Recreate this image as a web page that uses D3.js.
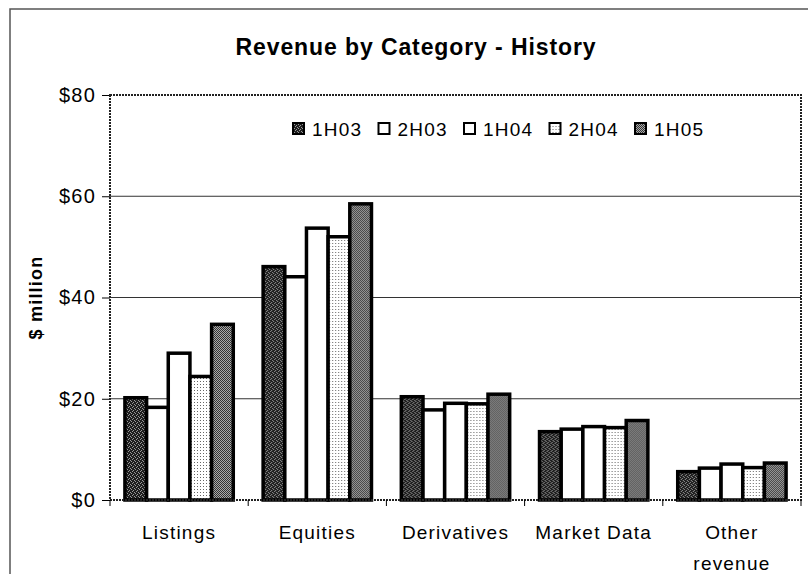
<!DOCTYPE html>
<html lang="en">
<head>
	<meta charset="UTF-8">
	<title>Revenue by Category - History</title>
	<script src="https://cdn.jsdelivr.net/npm/d3@7"></script>
	<style>
		body { margin: 0; background: #fff; }
		text { font-family: "Liberation Sans", Arial, sans-serif; fill: #000; letter-spacing: 1.2px; }
	</style>
</head>
<body>
	<svg id="svg"></svg>
	<script>
		var categories = ["Listings", "Equities", "Derivatives", "Market Data", "Other revenue"];
		var series = ["1H03", "2H03", "1H04", "2H04", "1H05"];
		// values in $ million, one array per half-year
		var v1H03 = [20.2, 46.1, 20.4, 13.5, 5.6];
		var v2H03 = [18.3, 44.1, 17.8, 14.0, 6.3];
		var v1H04 = [29.0, 53.7, 19.1, 14.5, 7.1];
		var v2H04 = [24.4, 52.0, 19.0, 14.3, 6.4];
		var v1H05 = [34.7, 58.5, 20.9, 15.7, 7.3];
		var yTicks = [0, 20, 40, 60, 80];

		var values = [v1H03, v2H03, v1H04, v2H04, v1H05];
		var w = 808, h = 574;
		var m = {left: 110, right: 7, top: 95, bottom: 74};

		var svg = d3.select("#svg").attr("width", w).attr("height", h);

		// fill patterns
		var defs = svg.append("defs");
		var p1 = defs.append("pattern").attr("id", "p1H03").attr("patternUnits", "userSpaceOnUse")
			.attr("width", 4).attr("height", 4);
		p1.append("rect").attr("width", 4).attr("height", 4).attr("fill", "#1e1e1e");
		[[0,0],[1,1],[3,2],[2,3]].forEach(function(d) {
			p1.append("rect").attr("x", d[0]).attr("y", d[1]).attr("width", 1).attr("height", 1).attr("fill", "#999");
		});
		var p4 = defs.append("pattern").attr("id", "p2H04").attr("patternUnits", "userSpaceOnUse")
			.attr("width", 3).attr("height", 3);
		p4.append("rect").attr("width", 3).attr("height", 3).attr("fill", "#fff");
		p4.append("rect").attr("width", 1).attr("height", 1).attr("fill", "#666");
		var p5 = defs.append("pattern").attr("id", "p1H05").attr("patternUnits", "userSpaceOnUse")
			.attr("width", 2).attr("height", 2);
		p5.append("rect").attr("width", 2).attr("height", 2).attr("fill", "#aaa");
		p5.append("rect").attr("width", 1).attr("height", 1).attr("fill", "#333");
		p5.append("rect").attr("x", 1).attr("y", 1).attr("width", 1).attr("height", 1).attr("fill", "#333");

		var fills = {"1H03": "url(#p1H03)", "2H03": "#fff", "1H04": "#fff", "2H04": "url(#p2H04)", "1H05": "url(#p1H05)"};

		// outer chart frame
		svg.append("path").attr("d", "M10," + (h + 2) + "V9H" + (w + 2))
			.attr("fill", "none").attr("stroke", "#555").attr("stroke-width", 1.5);

		var x0 = d3.scaleBand().domain(categories).range([m.left, w - m.right]);
		var pad = x0.bandwidth() * 0.108;
		var x1 = d3.scaleBand().domain(series).range([pad, x0.bandwidth() - pad]);
		var y = d3.scaleLinear().domain([0, 80]).range([h - m.bottom, m.top]);

		// title
		svg.append("text").attr("x", 416).attr("y", 55).attr("text-anchor", "middle")
			.style("font-size", "23px").style("font-weight", "bold").style("letter-spacing", "0.9px")
			.text("Revenue by Category - History");

		// y axis label
		svg.append("text").attr("transform", "translate(42," + y(40) + ") rotate(-90)")
			.attr("text-anchor", "middle").style("font-size", "18px").style("font-weight", "bold")
			.text("$ million");

		// gridlines
		svg.append("g").selectAll("line").data(yTicks.filter(function(d) { return d > 0 && d < 80; }))
			.enter().append("line")
			.attr("x1", m.left).attr("x2", w - m.right)
			.attr("y1", function(d) { return y(d); }).attr("y2", function(d) { return y(d); })
			.attr("stroke", "#333").attr("stroke-width", 1);

		// y axis
		var yAxis = svg.append("g").attr("transform", "translate(" + m.left + ",0)")
			.call(d3.axisLeft(y).tickValues(yTicks).tickSize(8).tickPadding(6)
				.tickFormat(function(d) { return "$" + d; }));
		yAxis.select(".domain").remove();
		yAxis.selectAll("text").style("font-size", "20px").attr("fill", "#000");
		yAxis.selectAll("line").attr("stroke", "#000");

		// bars
		var groups = svg.append("g").selectAll("g").data(categories).enter().append("g")
			.attr("transform", function(d) { return "translate(" + x0(d) + ",0)"; });
		groups.selectAll("rect").data(function(c, ci) {
				return series.map(function(s, si) { return {s: s, v: values[si][ci]}; });
			})
			.enter().append("rect")
			.attr("x", function(d) { return x1(d.s); })
			.attr("width", x1.bandwidth())
			.attr("y", function(d) { return y(d.v); })
			.attr("height", function(d) { return y(0) - y(d.v); })
			.attr("fill", function(d) { return fills[d.s]; })
			.attr("stroke", "#000").attr("stroke-width", 3.5);

		// plot area border (textured)
		svg.append("rect").attr("x", m.left).attr("y", m.top)
			.attr("width", w - m.left - m.right).attr("height", y(0) - m.top)
			.attr("fill", "none").attr("stroke", "#222").attr("stroke-width", 2)
			.attr("stroke-dasharray", "2,1");

		// x axis
		var xAxis = svg.append("g").attr("transform", "translate(0," + y(0) + ")");
		xAxis.selectAll("line").data(categories.concat([null])).enter().append("line")
			.attr("x1", function(d, i) { return m.left + i * x0.step(); })
			.attr("x2", function(d, i) { return m.left + i * x0.step(); })
			.attr("y1", 0).attr("y2", 6).attr("stroke", "#000");
		xAxis.selectAll("text").data(categories).enter().append("text")
			.attr("x", function(d) { return x0(d) + x0.bandwidth() / 2; })
			.attr("y", 39).attr("text-anchor", "middle").style("font-size", "19px")
			.each(function(d) {
				var words = d === "Other revenue" ? ["Other", "revenue"] : [d];
				var t = d3.select(this);
				words.forEach(function(wd, i) {
					t.append("tspan").attr("x", x0(d) + x0.bandwidth() / 2)
						.attr("dy", i ? 31 : 0).text(wd);
				});
			});

		// legend
		var legend = svg.append("g").attr("transform", "translate(293,123)");
		var li = legend.selectAll("g").data(series).enter().append("g")
			.attr("transform", function(d, i) { return "translate(" + (i * 85.5) + ",0)"; });
		li.append("rect").attr("width", 11).attr("height", 11)
			.attr("fill", function(d) { return fills[d]; })
			.attr("stroke", "#000").attr("stroke-width", 2);
		li.append("text").attr("x", 19).attr("y", 13).style("font-size", "19px")
			.text(function(d) { return d; });
	</script>
</body>
</html>
